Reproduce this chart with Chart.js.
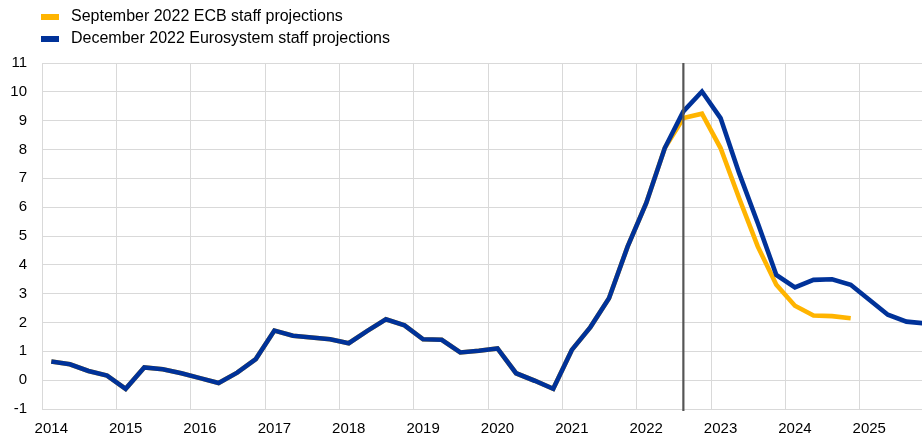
<!DOCTYPE html>
<html>
<head>
<meta charset="utf-8">
<script src="https://cdn.jsdelivr.net/npm/chart.js@4.4.0/dist/chart.umd.min.js"></script>
<style>
  html, body { margin: 0; padding: 0; background: #fff; }
  #wrap { width: 922px; height: 435px; }
</style>
</head>
<body>
<div id="wrap"><canvas id="chart"></canvas></div>
<script>
// Quarterly data, 2014 Q1 .. 2025 Q4
const firstYear = 2014;
const yearTicks = [2014, 2015, 2016, 2017, 2018, 2019, 2020, 2021, 2022, 2023, 2024, 2025];

// history up to 2022 Q2 (shared by both projection rounds)
const history = [
  0.65, 0.55, 0.32, 0.16,
  -0.30, 0.44, 0.38, 0.24,
  0.07, -0.10, 0.26, 0.73,
  1.72, 1.54, 1.48, 1.42,
  1.28, 1.71, 2.11, 1.90,
  1.42, 1.40, 0.96, 1.02,
  1.10, 0.24, -0.02, -0.30,
  1.05, 1.84, 2.84, 4.63,
  6.14, 8.05
];
// from 2022 Q3
const septProj = [9.09, 9.24, 8.05, 6.31, 4.64, 3.31, 2.58, 2.24, 2.22, 2.15];
const decProj = [9.32, 10.01, 9.09, 7.18, 5.45, 3.65, 3.22, 3.48, 3.50, 3.31, 2.79, 2.27, 2.03, 1.97];

const legendLabels = ["September 2022 ECB staff projections", "December 2022 Eurosystem staff projections"];
const colors = ["#ffb400", "#003299"];
const cutoff = 2022.625; // vertical line, start of projections (2022 Q3)

const fontFamily = "'Liberation Sans', Arial, sans-serif";

// quarter index -> position in years (middle of the quarter)
function toPoints(values) {
  return values.map((v, i) => ({ x: firstYear + 0.125 + i * 0.25, y: v }));
}

// vertical line + legend
const extras = {
  id: "extras",
  afterDatasetsDraw(chart) {
    const ctx = chart.ctx;
    const area = chart.chartArea;
    const x = chart.scales.x.getPixelForValue(cutoff);
    ctx.save();
    ctx.strokeStyle = "#555555";
    ctx.lineWidth = 2.2;
    ctx.beginPath();
    ctx.moveTo(x, area.top);
    ctx.lineTo(x, area.bottom + 2);
    ctx.stroke();
    ctx.restore();
  },
  afterDraw(chart) {
    const ctx = chart.ctx;
    ctx.save();
    ctx.font = "16px " + fontFamily;
    ctx.textBaseline = "middle";
    legendLabels.forEach((txt, i) => {
      const y = 17 + i * 22;
      ctx.fillStyle = colors[i];
      ctx.fillRect(41, y - 3, 18, 6);
      ctx.fillStyle = "#000";
      ctx.fillText(txt, 71, y);
    });
    ctx.restore();
  }
};

new Chart(document.getElementById("chart"), {
  type: "line",
  data: {
    datasets: [
      {
        label: legendLabels[0],
        data: toPoints(history.concat(septProj)),
        borderColor: colors[0],
        borderWidth: 4.6,
        pointRadius: 0,
        tension: 0,
        order: 2
      },
      {
        label: legendLabels[1],
        data: toPoints(history.concat(decProj)),
        borderColor: colors[1],
        borderWidth: 4.6,
        pointRadius: 0,
        tension: 0,
        order: 1
      }
    ]
  },
  options: {
    responsive: true,
    maintainAspectRatio: false,
    animation: false,
    layout: { padding: { top: 63, left: 0, right: 0, bottom: 0 } },
    plugins: {
      legend: { display: false },
      tooltip: { enabled: false }
    },
    scales: {
      x: {
        type: "linear",
        min: firstYear,
        max: 2025.834,
        afterFit: (s) => { s.height = 26; },
        afterBuildTicks: (s) => { s.ticks = yearTicks.map(v => ({ value: v })); },
        ticks: {
          autoSkip: false,
          maxRotation: 0,
          includeBounds: false,
          labelOffset: 9.3,
          padding: 11,
          color: "#000",
          font: { family: fontFamily, size: 15 },
          callback: (v) => String(v)
        },
        grid: { color: "#d9d9d9", lineWidth: 1, drawTicks: false },
        border: { display: false }
      },
      y: {
        min: -1,
        max: 11,
        afterFit: (s) => { s.width = 42; },
        ticks: {
          stepSize: 1,
          padding: 15,
          color: "#000",
          font: { family: fontFamily, size: 15 }
        },
        grid: { color: "#d9d9d9", lineWidth: 1, drawTicks: false },
        border: { display: false }
      }
    }
  },
  plugins: [extras]
});
</script>
</body>
</html>
